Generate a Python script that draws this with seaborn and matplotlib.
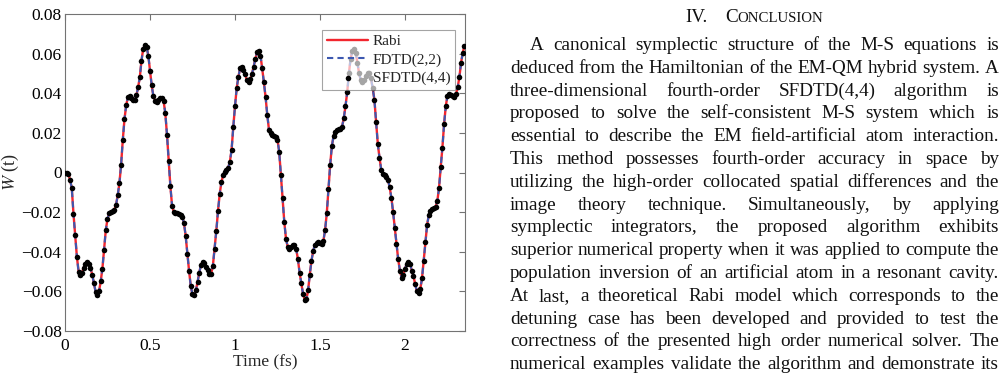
import matplotlib
matplotlib.use('Agg')
import matplotlib.pyplot as plt
from matplotlib.transforms import IdentityTransform
import seaborn as sns

# sample times (fs) and population inversion W(t)
t_fs = [
    0.00, 0.01, 0.02, 0.03, 0.04, 0.05, 0.06, 0.07, 0.08, 0.09,
    0.10, 0.11, 0.12, 0.13, 0.14, 0.15, 0.16, 0.17, 0.18, 0.19,
    0.20, 0.21, 0.22, 0.23, 0.24, 0.25, 0.26, 0.27, 0.28, 0.29,
    0.30, 0.31, 0.32, 0.33, 0.34, 0.35, 0.36, 0.37, 0.38, 0.39,
    0.40, 0.41, 0.42, 0.43, 0.44, 0.45, 0.46, 0.47, 0.48, 0.49,
    0.50, 0.51, 0.52, 0.53, 0.54, 0.55, 0.56, 0.57, 0.58, 0.59,
    0.60, 0.61, 0.62, 0.63, 0.64, 0.65, 0.66, 0.67, 0.68, 0.69,
    0.70, 0.71, 0.72, 0.73, 0.74, 0.75, 0.76, 0.77, 0.78, 0.79,
    0.80, 0.81, 0.82, 0.83, 0.84, 0.85, 0.86, 0.87, 0.88, 0.89,
    0.90, 0.91, 0.92, 0.93, 0.94, 0.95, 0.96, 0.97, 0.98, 0.99,
    1.00, 1.01, 1.02, 1.03, 1.04, 1.05, 1.06, 1.07, 1.08, 1.09,
    1.10, 1.11, 1.12, 1.13, 1.14, 1.15, 1.16, 1.17, 1.18, 1.19,
    1.20, 1.21, 1.22, 1.23, 1.24, 1.25, 1.26, 1.27, 1.28, 1.29,
    1.30, 1.31, 1.32, 1.33, 1.34, 1.35, 1.36, 1.37, 1.38, 1.39,
    1.40, 1.41, 1.42, 1.43, 1.44, 1.45, 1.46, 1.47, 1.48, 1.49,
    1.50, 1.51, 1.52, 1.53, 1.54, 1.55, 1.56, 1.57, 1.58, 1.59,
    1.60, 1.61, 1.62, 1.63, 1.64, 1.65, 1.66, 1.67, 1.68, 1.69,
    1.70, 1.71, 1.72, 1.73, 1.74, 1.75, 1.76, 1.77, 1.78, 1.79,
    1.80, 1.81, 1.82, 1.83, 1.84, 1.85, 1.86, 1.87, 1.88, 1.89,
    1.90, 1.91, 1.92, 1.93, 1.94, 1.95, 1.96, 1.97, 1.98, 1.99,
    2.00, 2.01, 2.02, 2.03, 2.04, 2.05, 2.06, 2.07, 2.08, 2.09,
    2.10, 2.11, 2.12, 2.13, 2.14, 2.15, 2.16, 2.17, 2.18, 2.19,
    2.20, 2.21, 2.22, 2.23, 2.24, 2.25, 2.26, 2.27, 2.28, 2.29,
    2.30, 2.31, 2.32, 2.33, 2.34, 2.35,
]
w_rabi = [
    0.0000, -0.0003, -0.0010, -0.0036, -0.0080, -0.0210, -0.0316, -0.0426, -0.0500, -0.0518,
    -0.0505, -0.0480, -0.0464, -0.0452, -0.0462, -0.0483, -0.0515, -0.0558, -0.0602, -0.0617,
    -0.0600, -0.0550, -0.0485, -0.0390, -0.0290, -0.0235, -0.0203, -0.0197, -0.0194, -0.0188,
    -0.0165, -0.0115, -0.0055, 0.0040, 0.0165, 0.0270, 0.0340, 0.0380, 0.0385, 0.0378,
    0.0365, 0.0365, 0.0390, 0.0430, 0.0480, 0.0565, 0.0625, 0.0645, 0.0635, 0.0590,
    0.0513, 0.0440, 0.0385, 0.0363, 0.0358, 0.0365, 0.0375, 0.0378, 0.0360, 0.0300,
    0.0190, 0.0060, -0.0070, -0.0170, -0.0198, -0.0203, -0.0206, -0.0208, -0.0212, -0.0225,
    -0.0255, -0.0322, -0.0410, -0.0498, -0.0575, -0.0615, -0.0620, -0.0594, -0.0552, -0.0505,
    -0.0465, -0.0452, -0.0458, -0.0475, -0.0494, -0.0513, -0.0510, -0.0470, -0.0385, -0.0295,
    -0.0195, -0.0108, -0.0050, -0.0013, 0.0005, 0.0015, 0.0025, 0.0055, 0.0115, 0.0230,
    0.0335, 0.0426, 0.0483, 0.0525, 0.0530, 0.0515, 0.0495, 0.0465, 0.0456, 0.0471,
    0.0498, 0.0535, 0.0575, 0.0607, 0.0615, 0.0590, 0.0525, 0.0455, 0.0380, 0.0290,
    0.0215, 0.0197, 0.0190, 0.0186, 0.0178, 0.0165, 0.0105, -0.0015, -0.0130, -0.0250,
    -0.0335, -0.0375, -0.0386, -0.0378, -0.0367, -0.0367, -0.0385, -0.0438, -0.0505, -0.0560,
    -0.0612, -0.0642, -0.0640, -0.0595, -0.0515, -0.0445, -0.0395, -0.0365, -0.0355, -0.0353,
    -0.0358, -0.0360, -0.0345, -0.0290, -0.0205, -0.0085, 0.0040, 0.0135, 0.0185, 0.0205,
    0.0215, 0.0218, 0.0220, 0.0232, 0.0275, 0.0335, 0.0405, 0.0500, 0.0575, 0.0612,
    0.0624, 0.0605, 0.0555, 0.0500, 0.0466, 0.0455, 0.0465, 0.0485, 0.0502, 0.0500,
    0.0475, 0.0425, 0.0368, 0.0255, 0.0145, 0.0075, 0.0015, -0.0008, -0.0015, -0.0022,
    -0.0038, -0.0075, -0.0128, -0.0200, -0.0280, -0.0360, -0.0438, -0.0495, -0.0530, -0.0515,
    -0.0485, -0.0462, -0.0452, -0.0462, -0.0495, -0.0522, -0.0565, -0.0600, -0.0610, -0.0588,
    -0.0535, -0.0445, -0.0350, -0.0265, -0.0215, -0.0192, -0.0185, -0.0178, -0.0172, -0.0145,
    -0.0080, 0.0026, 0.0125, 0.0245, 0.0335, 0.0388, 0.0396, 0.0393, 0.0388, 0.0382,
    0.0396, 0.0430, 0.0482, 0.0555, 0.0605, 0.0640,
]
# the three solutions coincide at the resolution of the figure
w_fdtd = list(w_rabi)
w_sfdtd = list(w_rabi)

series_labels = ['Rabi', 'FDTD(2,2)', 'SFDTD(4,4)']

x_ticks = [0, 0.5, 1, 1.5, 2]
x_tick_labels = ['0', '0.5', '1', '1.5', '2']
y_ticks = [-0.08, -0.06, -0.04, -0.02, 0, 0.02, 0.04, 0.06, 0.08]
y_tick_labels = ['\u22120.08', '\u22120.06', '\u22120.04', '\u22120.02', '0',
                 '0.02', '0.04', '0.06', '0.08']

heading_num = 'IV.'
heading_word = 'Conclusion'
paragraph_lines = [
    'A canonical symplectic structure of the M-S equations is',
    'deduced from the Hamiltonian of the EM-QM hybrid system. A',
    'three-dimensional fourth-order SFDTD(4,4) algorithm is',
    'proposed to solve the self-consistent M-S system which is',
    'essential to describe the EM field-artificial atom interaction.',
    'This method possesses fourth-order accuracy in space by',
    'utilizing the high-order collocated spatial differences and the',
    'image theory technique. Simultaneously, by applying',
    'symplectic integrators, the proposed algorithm exhibits',
    'superior numerical property when it was applied to compute the',
    'population inversion of an artificial atom in a resonant cavity.',
    'At last, a theoretical Rabi model which corresponds to the',
    'detuning case has been developed and provided to test the',
    'correctness of the presented high order numerical solver. The',
    'numerical examples validate the algorithm and demonstrate its',
]

sns.set_style('white')
plt.rcParams['font.family'] = ['Liberation Serif', 'DejaVu Serif']
plt.rcParams['mathtext.fontset'] = 'stix'

W, H = 1006, 376
fig = plt.figure(figsize=(W / 100, H / 100), dpi=100)
ax = fig.add_axes([65 / W, 45 / H, 400 / W, 317 / H])

sns.lineplot(x=t_fs, y=w_rabi, ax=ax, color='#f2262e', lw=1.7, label=series_labels[0])
sns.lineplot(x=t_fs, y=w_fdtd, ax=ax, color='#3c58b0', lw=1.5, label=series_labels[1])
ax.lines[-1].set_dashes([3, 2])
sns.scatterplot(x=t_fs, y=w_sfdtd, ax=ax, color='black', s=16, linewidth=0,
                label=series_labels[2], zorder=3)

ax.set_xlim(0, 2.353)
ax.set_ylim(-0.08, 0.08)
ax.set_xticks(x_ticks)
ax.set_xticklabels(x_tick_labels)
ax.set_yticks(y_ticks)
ax.set_yticklabels(y_tick_labels)
ax.tick_params(direction='in', length=4, width=0.8, color='0.45', top=True, right=True,
               labelsize=12.5, labelcolor='black')
ax.tick_params(axis='x', pad=5)
ax.tick_params(axis='y', pad=2.5)
for sp in ax.spines.values():
    sp.set_color('0.45')
    sp.set_linewidth(0.8)

ax.set_xlabel('Time (fs)', fontsize=12.5)
ax.set_ylabel(r'$\mathit{W}$ (t)', fontsize=13)
ax.xaxis.set_label_coords(0.5, -0.075)
ax.yaxis.set_label_coords(-0.11, 0.5)

leg = ax.legend(loc='upper right', bbox_to_anchor=(0.975, 0.95), fontsize=11,
                frameon=True, fancybox=False, framealpha=0.65, edgecolor='0.45',
                handlelength=2.7, handletextpad=0.3, borderpad=0.3,
                labelspacing=0.3, borderaxespad=0)
leg.get_frame().set_linewidth(0.8)

# right-hand column of the page: justified text
fig.canvas.draw()
renderer = fig.canvas.get_renderer()


def put(x, y, s, size):
    return fig.text(x, H - y, s, fontsize=size, transform=IdentityTransform(),
                    va='baseline', ha='left', color='#111111')


def width(obj):
    return obj.get_window_extent(renderer).width


col_l, col_r = 510, 999
probe = put(0, -200, paragraph_lines[9], 10)
body_size = 10 * (col_r - col_l) / width(probe)
probe.remove()

# heading in small caps
parts = [(heading_num, body_size), (heading_word[0].upper(), body_size),
         (heading_word[1:].upper(), body_size * 0.78)]
objs = [put(0, 21.5, s, sz) for s, sz in parts]
ws = [width(o) for o in objs]
gap_h = 17
total = sum(ws) + gap_h
x = (col_l + col_r) / 2 - total / 2
for i, (o, w) in enumerate(zip(objs, ws)):
    o.set_x(x)
    x += w + (gap_h if i == 0 else 0)

for i, line in enumerate(paragraph_lines):
    left = col_l + (20 if i == 0 else 0)
    y = 50 + i * 22.8
    words = line.split()
    objs = [put(0, y, w, body_size) for w in words]
    ws = [width(o) for o in objs]
    gap = (col_r - left - sum(ws)) / (len(words) - 1)
    x = left
    for o, w in zip(objs, ws):
        o.set_x(x)
        x += w + gap

fig.savefig('out.png', dpi=100)
